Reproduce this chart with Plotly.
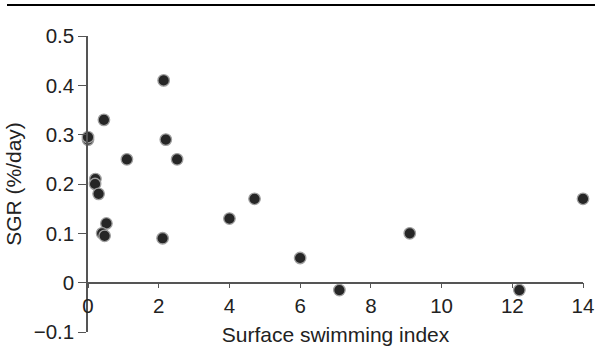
import plotly.graph_objects as go

x_vals = [0, 0, 0.45, 0.21, 0.2, 0.3, 1.1, 2.14, 2.2, 2.52, 0.52, 0.4, 0.47, 2.11, 4.0, 4.71, 6.0, 7.11, 9.1, 12.2, 14.0]
y_vals = [0.29, 0.295, 0.33, 0.21, 0.2, 0.18, 0.25, 0.41, 0.29, 0.25, 0.12, 0.1, 0.095, 0.09, 0.13, 0.17, 0.05, -0.015, 0.1, -0.015, 0.17]

x_ticks = [0, 2, 4, 6, 8, 10, 12, 14]
y_ticks = [-0.1, 0, 0.1, 0.2, 0.3, 0.4, 0.5]

W, H = 595, 349
ML, MR, MT, MB = 88, 12, 36, 17
pw = W - ML - MR
ph = H - MT - MB

fig = go.Figure(go.Scatter(
    x=x_vals, y=y_vals, mode="markers", cliponaxis=False,
    marker=dict(size=11.5, color="#262626", line=dict(color="#a0a0a0", width=1.3)),
))

tfont = dict(family="Liberation Sans, Arial, sans-serif", size=20.5, color="#222")
lfont = dict(family="Liberation Sans, Arial, sans-serif", size=21, color="#222")
fig.update_layout(
    width=W, height=H, margin=dict(l=ML, r=MR, t=MT, b=MB),
    plot_bgcolor="white", paper_bgcolor="white", showlegend=False,
    font=tfont,
    xaxis=dict(range=[0, 14], tickvals=x_ticks, ticks="outside", ticklen=5,
               tickcolor="#555", showline=True, linecolor="#555", linewidth=1.5,
               showgrid=False, zeroline=False, anchor="free", position=1/6,
               automargin=False,
               title=dict(text="Surface swimming index", standoff=10, font=lfont),
               tickfont=tfont),
    yaxis=dict(range=[-0.1, 0.5], tickvals=y_ticks, ticks="outside", ticklen=8,
               tickcolor="#555", showline=True, linecolor="#555", linewidth=1.5,
               showgrid=False, zeroline=False, automargin=False,
               title=dict(text="SGR (%/day)", standoff=6, font=lfont),
               tickfont=tfont),
)
fig.add_shape(type="line", xref="paper", yref="paper",
              x0=(7 - ML) / pw, x1=(W - ML) / pw,
              y0=(H - MB - 5) / ph, y1=(H - MB - 5) / ph,
              line=dict(color="black", width=2))
fig.write_html("out.html", post_script="document.body.style.margin='0px';",
               config={"displayModeBar": False})
